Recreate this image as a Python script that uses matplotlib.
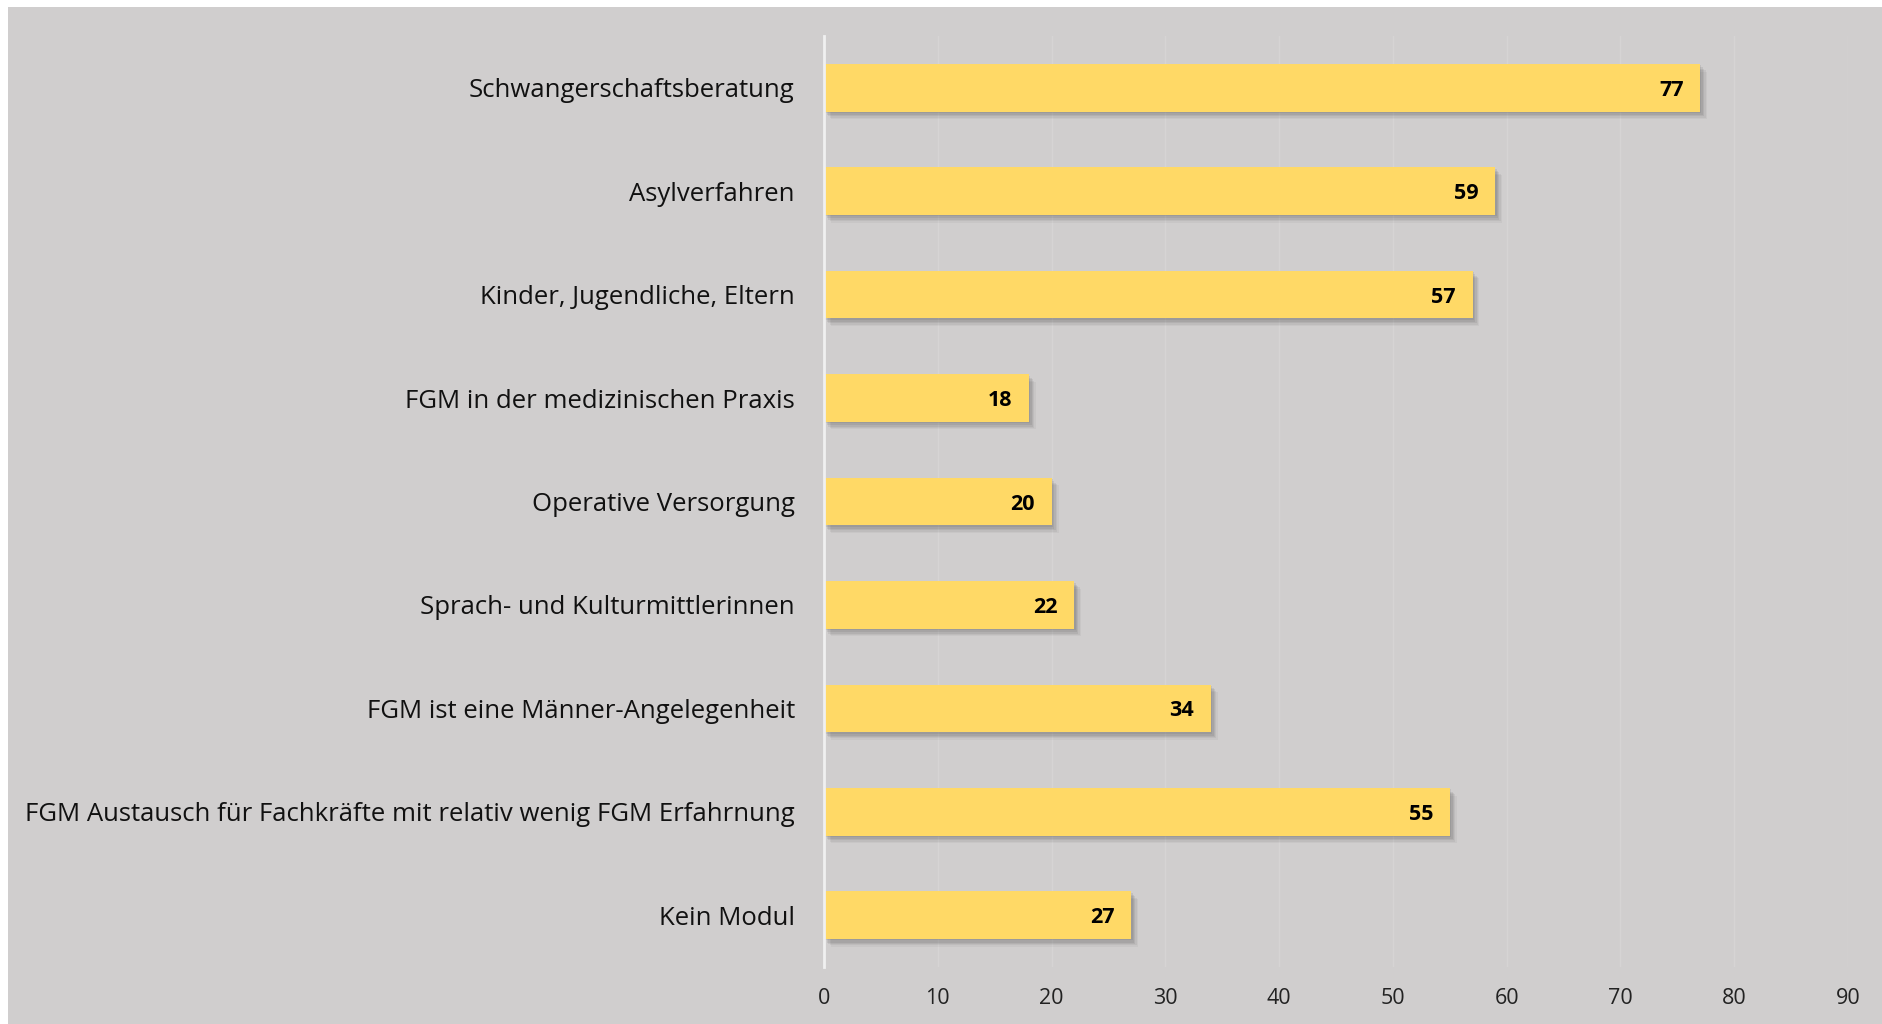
import matplotlib
matplotlib.use("Agg")
import matplotlib.pyplot as plt
import matplotlib.patheffects as pe
from matplotlib.patches import Rectangle

categories = [
    "Schwangerschaftsberatung",
    "Asylverfahren",
    "Kinder, Jugendliche, Eltern",
    "FGM in der medizinischen Praxis",
    "Operative Versorgung",
    "Sprach- und Kulturmittlerinnen",
    "FGM ist eine Männer-Angelegenheit",
    "FGM Austausch für Fachkräfte mit relativ wenig FGM Erfahrnung",
    "Kein Modul",
]
values = [77, 59, 57, 18, 20, 22, 34, 55, 27]
xticks = [0, 10, 20, 30, 40, 50, 60, 70, 80, 90]

BG = "#D0CECE"
BAR = "#FFD966"
FONT = "Open Sans"

fig = plt.figure(figsize=(18.83, 10.24), dpi=100)
fig.patch.set_facecolor("white")
fig.patches.append(Rectangle((8 / 1883, 0), 1 - 8 / 1883, 1 - 7 / 1024,
                             transform=fig.transFigure, facecolor=BG,
                             edgecolor="none", zorder=-10))

ax = fig.add_axes([824 / 1883, 1 - 967 / 1024, (1848 - 824) / 1883, (967 - 36) / 1024])
ax.set_facecolor(BG)
ax.patch.set_alpha(0)

shadow = []
for dx, dy, a in [(1, -1, 0.10), (2, -2.5, 0.10), (3, -3.5, 0.09), (4, -4.5, 0.07), (5, -5.5, 0.05)]:
    shadow.append(pe.SimplePatchShadow(offset=(dx, dy), shadow_rgbFace="#404040", alpha=a))
shadow.append(pe.Normal())

ypos = list(range(len(categories)))
bars = ax.barh(ypos, values, height=0.46, color=BAR, zorder=3, path_effects=shadow)
ax.set_ylim(len(categories) - 0.5, -0.5)
ax.set_xlim(0, 90)
ax.set_xticks(xticks)
ax.set_xticklabels([str(t) for t in xticks], fontsize=15.5, family=FONT, color="#222222")
ax.set_yticks(ypos)
ax.set_yticklabels(categories, fontsize=18.5, family=FONT, color="#111111")
ax.tick_params(axis="both", length=0)
ax.tick_params(axis="y", pad=21)
ax.tick_params(axis="x", pad=15)

ax.grid(axis="x", color="#D6D4D4", linewidth=1.0, zorder=0)
ax.set_axisbelow(True)
for s in ["top", "right", "bottom"]:
    ax.spines[s].set_visible(False)
ax.spines["left"].set_color("#F0F0F0")
ax.spines["left"].set_linewidth(2)
ax.spines["left"].set_zorder(4)

for y, v in zip(ypos, values):
    ax.annotate(str(v), xy=(v, y), xytext=(-12, 0), textcoords="offset points",
                ha="right", va="center_baseline", fontsize=15.5, fontweight="bold",
                family=FONT, color="black", zorder=5)

fig.savefig("out.png", dpi=100, facecolor=fig.get_facecolor())
